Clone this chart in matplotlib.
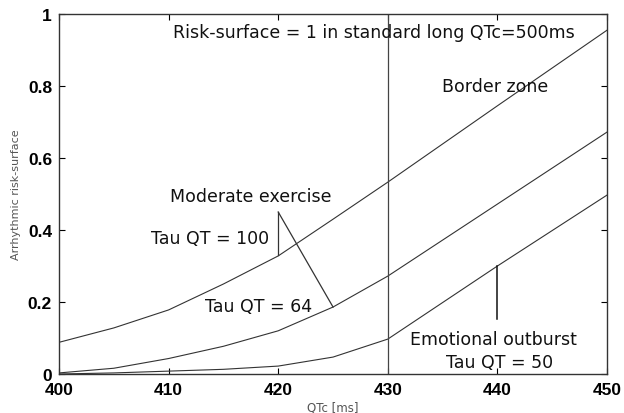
import numpy as np
import matplotlib
matplotlib.use("Agg")
import matplotlib.pyplot as plt

# =========================================================
# DATA
# =========================================================
qtc = [400, 405, 410, 415, 420, 425, 430, 440, 450]
tau_100 = [0.088, 0.128, 0.178, 0.25, 0.328, 0.43, 0.533, 0.745, 0.955]
tau_64 = [0.003, 0.016, 0.043, 0.077, 0.12, 0.186, 0.272, 0.472, 0.672]
tau_50 = [0.0, 0.003, 0.008, 0.013, 0.022, 0.047, 0.097, 0.30, 0.497]

x_ticks = [400, 410, 420, 430, 440, 450]
y_ticks = [0, 0.2, 0.4, 0.6, 0.8, 1]
y_tick_labels = ["0", "0.2", "0.4", "0.6", "0.8", "1"]

# =========================================================
# PLOT
# =========================================================
plt.rcParams["font.family"] = ["Liberation Sans", "DejaVu Sans"]

fig = plt.figure(figsize=(6.24, 4.14), dpi=100)
ax = fig.add_axes([0.0946, 0.0942, 0.8782, 0.8696])

line_kw = dict(color="#333333", lw=0.8)
ax.plot(qtc, tau_100, **line_kw)
ax.plot(qtc, tau_64, **line_kw)
ax.plot(qtc, tau_50, **line_kw)
ax.axvline(430, color="#444444", lw=0.9)

# annotation pointers
ax.plot([420, 420], [0.45, 0.33], color="#333333", lw=0.9)
ax.plot([420, 425], [0.45, 0.186], color="#333333", lw=0.9)
ax.plot([440, 440], [0.30, 0.153], color="#111111", lw=1.1)

txt = dict(fontsize=12.5, color="#111111", ha="center", va="center",
           family="DejaVu Sans")
ax.text(428.7, 0.95, "Risk-surface = 1 in standard long QTc=500ms", **txt)
ax.text(439.8, 0.80, "Border zone", **txt)
ax.text(417.5, 0.495, "Moderate exercise", **txt)
ax.text(413.8, 0.378, "Tau QT = 100", **txt)
ax.text(418.2, 0.189, "Tau QT = 64", **txt)
ax.text(439.6, 0.097, "Emotional outburst", **txt)
ax.text(440.2, 0.033, "Tau QT = 50", **txt)

ax.set_xlim(400, 450)
ax.set_ylim(0, 1)
ax.set_xticks(x_ticks)
ax.set_yticks(y_ticks)
ax.set_yticklabels(y_tick_labels)
ax.tick_params(direction="in", top=True, right=True, length=4, width=0.8,
               labelsize=12.5)
ax.tick_params(axis="x", pad=6)
ax.tick_params(axis="y", pad=5)
for lab in ax.get_xticklabels() + ax.get_yticklabels():
    lab.set_fontweight("bold")
for sp in ax.spines.values():
    sp.set_linewidth(1.0)
    sp.set_color("#333333")

ax.set_xlabel("QTc [ms]", fontsize=8.5, color="#555555", labelpad=2,
              family="DejaVu Sans")
ax.set_ylabel("Arrhythmic risk-surface", fontsize=8, color="#555555",
              labelpad=5, family="DejaVu Sans")

fig.savefig("out.png", dpi=100)
